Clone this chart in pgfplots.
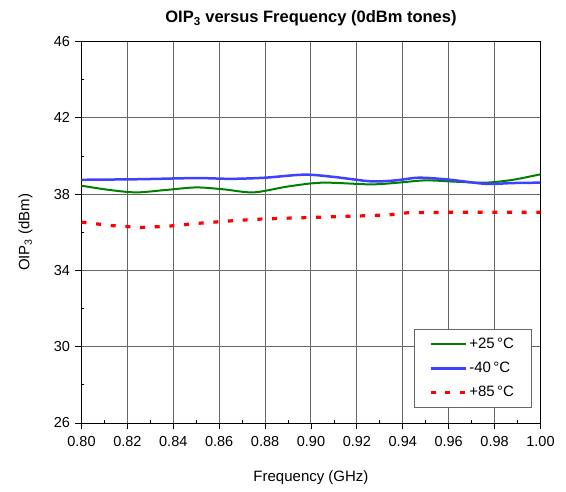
\documentclass[border=0pt]{standalone}
\usepackage{fontspec}
\setmainfont{Liberation Sans}
\usepackage{pgfplots}
\pgfplotsset{compat=1.18}
\definecolor{cgreen}{RGB}{0,128,0}
\definecolor{cblue}{RGB}{64,64,255}
\definecolor{cred}{RGB}{255,0,0}
\begin{document}
\begin{tikzpicture}[x=1pt,y=1pt]
\path[use as bounding box] (-81.5,-68) rectangle (484.5,423);
\begin{axis}[
  scale only axis, width=459pt, height=381.5pt,
  xmin=0.80, xmax=1.00, ymin=26, ymax=46,
  xtick={0.80,0.82,...,1.001}, ytick={26,30,...,46},
  minor xtick={0.81,0.83,...,1.0}, minor ytick={28,32,...,44},
  tick pos=left,
  /pgf/number format/assume math mode=true,
  x tick label style={/pgf/number format/fixed, /pgf/number format/fixed zerofill, /pgf/number format/precision=2, yshift=-4pt},
  tick label style={font=\fontsize{14.5}{16}\selectfont},
  y tick label style={xshift=-2pt},
  major tick length=6pt, minor tick length=-3pt,
  every tick/.style={black, line width=0.8pt},
  tick align=outside,
  xmajorgrids, ymajorgrids,
  major grid style={black!60, line width=1pt},
  axis line style={black, line width=1pt},
  title={\textbf{OIP\textsubscript{3} versus Frequency (0dBm tones)}},
  title style={font=\fontsize{16.5}{18}\selectfont, at={(0.5,1)}, anchor=base, yshift=13pt},
  xlabel={Frequency (GHz)},
  ylabel={OIP\textsubscript{3} (dBm)},
  label style={font=\fontsize{15}{17}\selectfont},
  xlabel style={at={(0.5,0)}, anchor=base, yshift=-58pt},
  ylabel style={at={(axis description cs:-0.122,0.5)}, anchor=center},
  legend style={at={(0.9805,0.04)}, anchor=south east, draw=black!60, line width=1pt,
    font=\fontsize{15}{17}\selectfont, row sep=8pt, inner xsep=15pt, inner ysep=7pt},
  legend cell align=left,
  legend image code/.code={\draw[#1] (0pt,0pt) -- (35pt,0pt);},
]
\addplot[cgreen, line width=2pt, smooth] coordinates {
(0.800,38.44) (0.812,38.22) (0.824,38.09) (0.837,38.22) (0.850,38.35) (0.862,38.25)
(0.875,38.09) (0.890,38.40) (0.905,38.60) (0.926,38.51) (0.938,38.60) (0.950,38.72)
(0.963,38.65) (0.976,38.60) (0.988,38.75) (1.000,39.04)};
\addlegendentry{+25\,°C}
\addplot[cblue, line width=2.5pt, smooth] coordinates {
(0.800,38.75) (0.825,38.78) (0.850,38.84) (0.865,38.80) (0.880,38.86) (0.897,39.02)
(0.910,38.90) (0.926,38.67) (0.937,38.72) (0.947,38.86) (0.960,38.76) (0.976,38.54)
(0.988,38.58) (1.000,38.60)};
\addlegendentry{-40\,°C}
\addplot[cred, line width=3.2pt, dash pattern=on 5pt off 9.7pt] coordinates {
(0.800,36.53) (0.813,36.35) (0.826,36.25) (0.838,36.32) (0.850,36.46) (0.863,36.58)
(0.876,36.68) (0.890,36.74) (0.904,36.79) (0.920,36.85) (0.934,36.91) (0.942,37.02)
(0.960,37.05) (0.980,37.05) (1.000,37.05)};
\addlegendentry{+85\,°C}
\end{axis}
\end{tikzpicture}
\end{document}
